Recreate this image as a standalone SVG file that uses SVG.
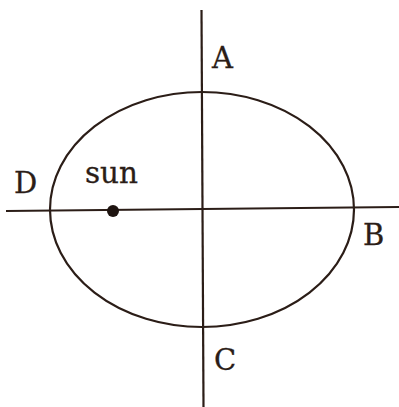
<svg xmlns="http://www.w3.org/2000/svg" width="399" height="407" viewBox="0 0 399 407">
<style>
.ln{stroke:#2b1d17;stroke-width:2.2;fill:none}
.lbl{font-family:"DejaVu Serif","Liberation Serif",serif;font-size:29px;fill:#2b1d17;stroke:#2b1d17;stroke-width:0.3}
</style>
<rect width="399" height="407" fill="#ffffff"/>
<g id="connectors">
<line class="ln" x1="6" y1="211" x2="399" y2="207"/>
<line class="ln" x1="201.5" y1="10" x2="203.5" y2="407"/>
</g>
<g id="orbit"><ellipse class="ln" cx="202" cy="209.5" rx="152" ry="117.5"/></g>
<g id="sun"><circle cx="113" cy="211" r="6" fill="#1e1410"/><text class="lbl" x="85" y="183" textLength="53" lengthAdjust="spacingAndGlyphs">sun</text></g>
<g id="A"><text class="lbl" x="212" y="68">A</text></g>
<g id="B"><text class="lbl" x="363" y="245">B</text></g>
<g id="C"><text class="lbl" x="214" y="370">C</text></g>
<g id="D"><text class="lbl" x="14" y="193">D</text></g>
</svg>
